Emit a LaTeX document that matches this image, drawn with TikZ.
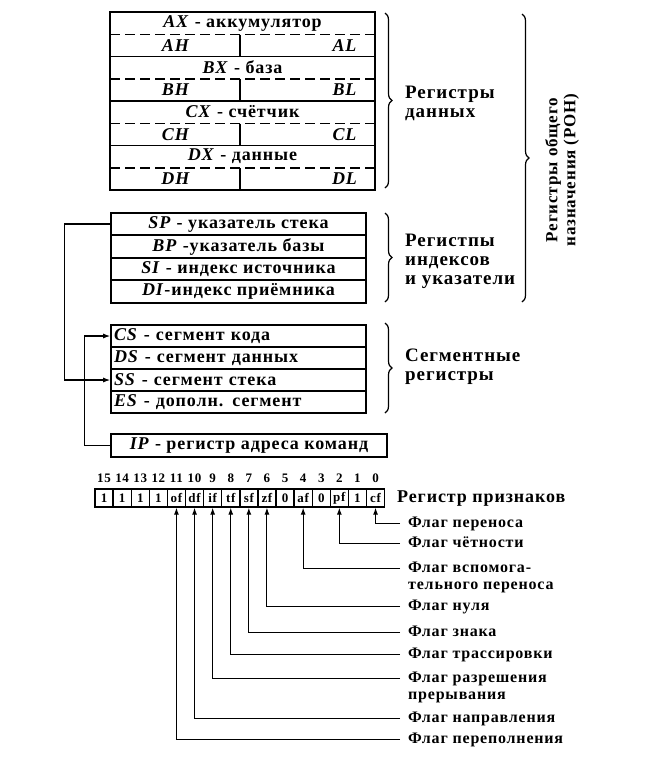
\documentclass[tikz,border=0pt]{standalone}
\usepackage{fontspec}
\setmainfont{Liberation Serif}[LetterSpace=5]
\usetikzlibrary{arrows.meta,positioning,decorations.pathreplacing}
\newcommand{\rg}[1]{\textit{#1}}

\begin{document}
\begin{tikzpicture}[x=1pt,y=-1pt,
  every node/.style={inner sep=0pt},
  txt/.style={font=\bfseries\fontsize{18}{19}\selectfont},
  row/.style={txt, draw, line width=1.6pt, minimum width=255pt, minimum height=22.5pt},
  segrow/.style={row, minimum height=22pt, text width=249pt, align=left},
  grp/.style={font=\bfseries\fontsize{19}{19}\selectfont, align=left, anchor=west},
  brc/.style={decorate, decoration={brace, amplitude=7pt}, line width=1.2pt},
  conn/.style={line width=1.2pt, -{Latex[length=7pt,width=5pt]}},
  cell/.style={draw, line width=1.4pt, minimum width=18.1pt, minimum height=18pt, font=\bfseries\fontsize{13}{13}\selectfont},
  bitnum/.style={font=\bfseries\fontsize{13}{13}\selectfont},
  flag/.style={anchor=north west, align=left, inner xsep=8pt, font=\bfseries\fontsize{16}{17}\selectfont}]
  \useasboundingbox (0,0) rectangle (652,764);

  % registres de donnees
  \draw[line width=1.6pt] (110,12) rectangle (375,190);
  \foreach \r/\nom [count=\i from 0] in {A/аккумулятор, B/база, C/счётчик, D/данные} {
    \pgfmathsetmacro\t{12+44.5*\i}
    \node[txt] (\r x) at (242.5,\t+11) {\rg{\r X} - \nom};
    \draw[line width=1.4pt, dash pattern=on 10pt off 5pt] (110,\t+22.5) -- (375,\t+22.5);
    \draw[line width=1.4pt] (240,\t+22.5) -- (240,\t+44.5);
    \node[txt] (\r h) at (176,\t+33.5) {\rg{\r H}};
    \node[txt] (\r l) at (345,\t+33.5) {\rg{\r L}};
    \ifnum\i<3 \draw[line width=1.6pt] (110,\t+44.5) -- (375,\t+44.5); \fi
  }

  % indexes et pointeurs
  \node[row] (sp) at (238.5,224) {\rg{SP} - указатель стека};
  \node[row] (bp) at (238.5,246.5) {\rg{BP} -указатель базы};
  \node[row] (si) at (238.5,269) {\rg{SI} - индекс источника};
  \node[row] (di) at (238.5,291.5) {\rg{DI}-индекс приёмника};

  % segments
  \node[segrow] (cs) at (238.5,336) {\rg{CS} - сегмент кода};
  \node[segrow] (ds) at (238.5,358) {\rg{DS} - сегмент данных};
  \node[segrow] (ss) at (238.5,380) {\rg{SS} - сегмент стека};
  \node[segrow] (es) at (238.5,402) {\rg{ES} - дополн. сегмент};
  \node[row, minimum width=276pt] (ip) at (249,445.5) {\rg{IP} - регистр адреса команд};

  \draw[conn] (sp.west) -- ++(-46,0) |- (ss.west);
  \draw[conn] (ip.west) -- ++(-26,0) |- (cs.west);

  % accolades
  \draw[brc] (385,13) -- (385,188);
  \draw[brc] (385,213) -- (385,302);
  \draw[brc] (385,323) -- (385,413);
  \draw[brc] (522,14) -- (522,302);
  \node[grp] (gdon) at (405,103) {Регистры\\данных};
  \node[grp] (gind) at (405,261) {Регистпы\\индексов\\и указатели};
  \node[grp] (gseg) at (405,367) {Сегментные\\регистры};
  \node[grp, font=\bfseries\fontsize{17}{18}\selectfont, anchor=center, align=center, rotate=90] (gron) at (562,170) {Регистры общего\\назначения (РОН)};

  % registre des drapeaux
  \foreach \v [count=\i from 0] in {1,1,1,1,of,df,if,tf,sf,zf,0,af,0,pf,1,cf} {
    \pgfmathtruncatemacro\b{15-\i}
    \node[cell] (c\b) at ({95+18.1*(\i+0.5)},498) {\v};
    \node[bitnum] (d\b) at ({95+18.1*(\i+0.5)},478) {\b};
  }
  \node[txt, anchor=west] (rflag) at (397,499) {Регистр признаков};

  \foreach \b/\y/\nom in {0/523/Флаг переноса, 2/543/Флаг чётности,
      4/568/{Флаг вспомога-\\тельного переноса}, 6/606/Флаг нуля, 7/632/Флаг знака,
      8/654/Флаг трассировки, 9/678/{Флаг разрешения\\прерывания},
      10/718/Флаг направления, 11/739/Флаг переполнения} {
    \node[flag] (f\b) at (400,\y-6) {\nom};
    \draw[conn, line width=1pt] ([yshift=-6pt]f\b.north west) -| (c\b.south);
  }
\end{tikzpicture}
\end{document}
